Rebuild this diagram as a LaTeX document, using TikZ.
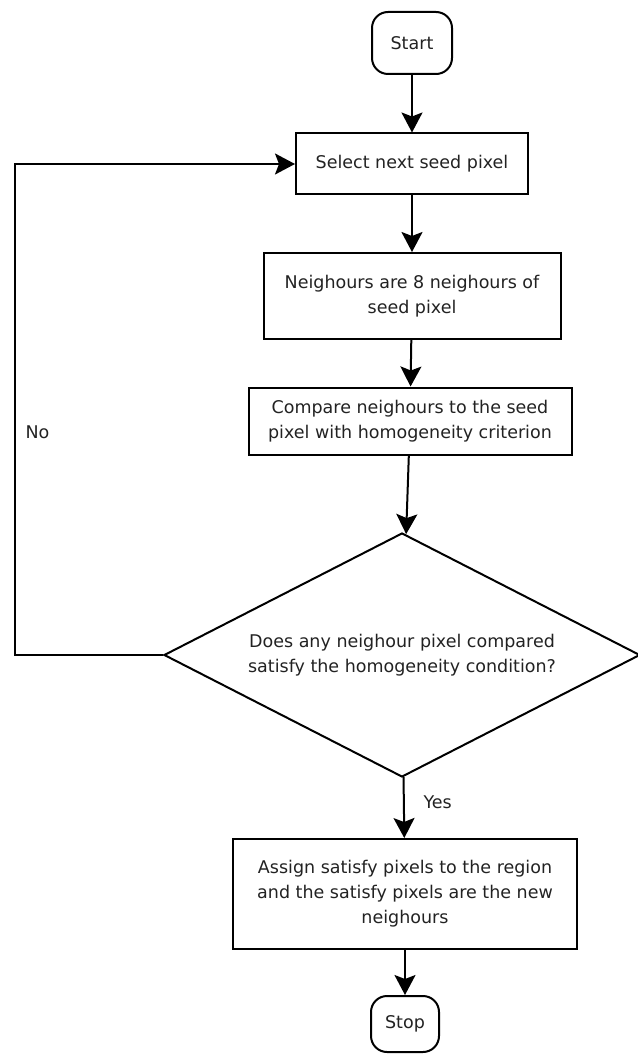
\documentclass[tikz,border=0pt]{standalone}
\usepackage{fontspec}
\setmainfont{DejaVu Sans}
\usetikzlibrary{arrows.meta,shapes.geometric,positioning}

\begin{document}
\begin{tikzpicture}[x=1pt, y=1pt, every node/.style={font=\fontsize{17.5pt}{25pt}\selectfont}]
			\definecolor{textColour}{RGB}{34, 34, 34}
			\tikzstyle{terminal}=[rectangle, draw, rounded corners=16pt, line width=2pt, inner sep=0pt, text=textColour]
			\tikzstyle{process}=[rectangle, draw, line width=2pt, align=center, inner sep=0pt, text=textColour]
			\tikzstyle{decision}=[diamond, draw, line width=2pt, align=center, inner sep=0pt, aspect=1.95, text=textColour]
			\tikzstyle{flow}=[-{Stealth[length=20pt, width=21pt, inset=4pt]}, line width=2pt]

			\useasboundingbox (0,0) rectangle (637,-1059);

			\node [terminal, minimum width=80pt, minimum height=62pt, xshift=412pt, yshift=-43pt] (start) {Start};
			\node [process, minimum width=232pt, minimum height=61pt, xshift=412pt, yshift=-164pt] (select) {Select next seed pixel};
			\node [process, minimum width=297pt, minimum height=86pt, xshift=412pt, yshift=-296pt] (neigh) {Neighours are 8 neighours of\\seed pixel};
			\node [process, minimum width=323pt, minimum height=67pt, xshift=410pt, yshift=-421pt] (compare) {Compare neighours to the seed\\pixel with homogeneity criterion};
			\node [decision, minimum width=476pt, minimum height=244pt, xshift=402pt, yshift=-655pt] (check) {Does any neighour pixel compared\\satisfy the homogeneity condition?};
			\node [process, minimum width=344pt, minimum height=110pt, xshift=405pt, yshift=-894pt] (assign) {Assign satisfy pixels to the region\\and the satisfy pixels are the new\\neighours};
			\node [terminal, minimum width=68pt, minimum height=56pt, xshift=405pt, yshift=-1024pt] (stop) {Stop};

			\coordinate [xshift=15pt, yshift=-655pt] (loop);
			\node [anchor=west, text=textColour, xshift=22pt, yshift=-432pt] (no) {No};
			\node [anchor=west, text=textColour, xshift=420pt, yshift=-802pt] (yes) {Yes};

			\path[flow]
			(start) edge (select)
			(select) edge (neigh)
			(neigh) edge (compare)
			(compare) edge (check)
			(check) edge (assign)
			(assign) edge (stop);
			\draw[flow] (check.west) -- (loop) |- (select.west);
		\end{tikzpicture}
\end{document}
